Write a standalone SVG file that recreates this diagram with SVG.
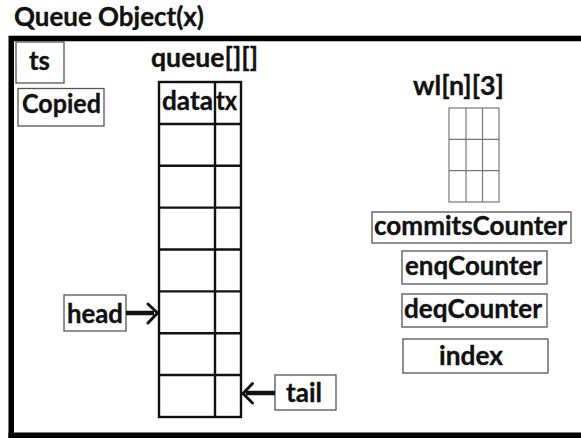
<svg xmlns="http://www.w3.org/2000/svg" width="581" height="438" viewBox="0 0 581 438">
  <style>
    text { font-family: "Lato", "Liberation Sans", sans-serif; font-weight: 700; font-size: 26px; fill: #111; stroke: #111; stroke-width: 0.35; }
    .title { font-size: 26px; }
    .box { fill: #fff; stroke: #555; stroke-width: 1.3; }
    .grid { fill: none; stroke: #111; stroke-width: 2.4; }
    .thin { fill: none; stroke: #777; stroke-width: 1.2; }
    .frame { fill: none; stroke: #000; stroke-width: 5.5; }
    .shaft { stroke: #111; stroke-width: 4.5; fill: none; }
    .tip { stroke: #111; stroke-width: 3; fill: none; stroke-linecap: round; stroke-linejoin: round; }
  </style>

  <rect width="581" height="438" fill="#fff"/>

  <!-- object title and outer frame -->
  <text class="title" x="14" y="26" textLength="190" lengthAdjust="spacingAndGlyphs">Queue Object(x)</text>
  <path class="frame" d="M11.25 438 V38.5 H581"/>
  <path class="frame" d="M8.5 435.2 H581" stroke-width="6"/>

  <!-- scalar fields -->
  <g id="ts">
    <rect class="box" x="16" y="42" width="48" height="41"/>
    <text x="29" y="70" textLength="21" lengthAdjust="spacingAndGlyphs">ts</text>
  </g>
  <g id="copied">
    <rect class="box" x="18" y="88.5" width="86" height="37.5"/>
    <text x="22" y="113" textLength="79" lengthAdjust="spacingAndGlyphs">Copied</text>
  </g>

  <!-- queue[][] table: header plus 7 slots -->
  <g id="queue">
    <text x="151" y="67" textLength="107" lengthAdjust="spacingAndGlyphs">queue[][]</text>
    <rect class="grid" x="159" y="82" width="82" height="335"/>
    <path class="grid" d="M215 82 V417 M159 124 H241 M159 165.8 H241 M159 207.6 H241 M159 249.5 H241 M159 291.4 H241 M159 333.2 H241 M159 375 H241"/>
    <text x="162" y="110" textLength="51" lengthAdjust="spacingAndGlyphs">data</text>
    <text x="216" y="110" textLength="21" lengthAdjust="spacingAndGlyphs">tx</text>
  </g>

  <g id="head">
    <rect class="box" x="64" y="295" width="62" height="36"/>
    <text x="67" y="323" textLength="56" lengthAdjust="spacingAndGlyphs">head</text>
  </g>
  <g id="tail">
    <rect class="box" x="275" y="375" width="61" height="35"/>
    <text x="286" y="402" textLength="36" lengthAdjust="spacingAndGlyphs">tail</text>
  </g>

  <!-- wl[n][3] grid -->
  <g id="wl">
    <text x="413" y="95" textLength="91" lengthAdjust="spacingAndGlyphs">wl[n][3]</text>
    <rect class="thin" x="449" y="108" width="50" height="94"/>
    <path class="thin" d="M466 108 V202 M482.5 108 V202 M449 139.3 H499 M449 170.6 H499"/>
  </g>

  <!-- counters -->
  <g id="commitsCounter">
    <rect class="box" x="372" y="212" width="199" height="31"/>
    <text x="374" y="235" textLength="193" lengthAdjust="spacingAndGlyphs">commitsCounter</text>
  </g>
  <g id="enqCounter">
    <rect class="box" x="402" y="251" width="145" height="33"/>
    <text x="405" y="275" textLength="137" lengthAdjust="spacingAndGlyphs">enqCounter</text>
  </g>
  <g id="deqCounter">
    <rect class="box" x="402" y="294" width="145" height="33"/>
    <text x="404" y="318" textLength="138" lengthAdjust="spacingAndGlyphs">deqCounter</text>
  </g>
  <g id="index">
    <rect class="box" x="403" y="339" width="145" height="34"/>
    <text x="439" y="365" textLength="64" lengthAdjust="spacingAndGlyphs">index</text>
  </g>

  <!-- pointers into the queue -->
  <g id="connectors">
    <path class="shaft" d="M126 313 H154"/>
    <path class="tip" d="M148 304 L157.5 313 L148 323"/>
    <path class="shaft" d="M275 393 H246"/>
    <path class="tip" d="M252.5 383.5 L243 393.5 L252.5 403"/>
  </g>
</svg>
